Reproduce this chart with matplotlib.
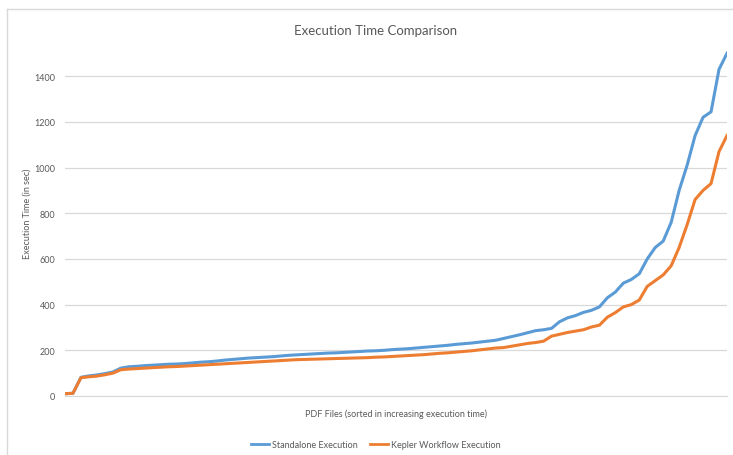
import matplotlib
matplotlib.use("Agg")
import matplotlib.pyplot as plt
from matplotlib.lines import Line2D

# execution times (sec) for PDF files, sorted by increasing time
standalone = [10, 12, 82, 88, 92, 98, 105, 122, 128, 130, 133, 135, 137, 139, 140,
              142, 145, 148, 150, 153, 157, 160, 163, 166, 168, 170, 172, 175, 178,
              180, 182, 184, 186, 188, 189, 191, 193, 195, 197, 198, 200, 203, 205,
              207, 210, 213, 216, 219, 222, 226, 229, 232, 236, 240, 244, 252, 260,
              268, 277, 286, 290, 296, 325, 342, 352, 366, 375, 390, 430, 455, 494,
              510, 535, 600, 650, 678, 760, 900, 1010, 1140, 1220, 1244, 1430, 1500]
kepler = [10, 12, 80, 84, 87, 93, 100, 115, 118, 120, 122, 124, 126, 128, 129,
          131, 133, 135, 137, 139, 141, 143, 145, 147, 149, 151, 153, 155, 157,
          159, 160, 161, 162, 163, 164, 165, 166, 167, 168, 170, 171, 173, 175,
          177, 179, 181, 184, 187, 189, 192, 195, 198, 202, 206, 210, 212, 218,
          224, 230, 234, 240, 262, 270, 278, 284, 290, 302, 310, 345, 365, 390,
          400, 420, 480, 505, 530, 570, 650, 750, 860, 900, 930, 1070, 1140]
files = list(range(len(standalone)))
yticks = [0, 200, 400, 600, 800, 1000, 1200, 1400]

BLUE, ORANGE, GREY, GRID = "#5B9BD5", "#ED7D31", "#595959", "#D9D9D9"
plt.rcParams["font.family"] = ["Lato", "DejaVu Sans"]

W, H = 733, 456
fig = plt.figure(figsize=(W / 100, H / 100), dpi=100)
ax = fig.add_axes([65 / W, (H - 397) / H, (727 - 65) / W, (397 - 31.5) / H])

ax.plot(files, standalone, color=BLUE, lw=2.2, solid_joinstyle="round")
ax.plot(files, kepler, color=ORANGE, lw=2.2, solid_joinstyle="round")

ax.set_xlim(0, len(files) - 1)
ax.set_ylim(0, 1600)
ax.set_yticks(yticks)
ax.set_xticks([])
ax.tick_params(axis="y", length=0, labelsize=6.5, labelcolor=GREY, pad=7)
ax.grid(axis="y", color=GRID, lw=0.9)
ax.set_axisbelow(True)
for s in ax.spines.values():
    s.set_visible(False)
ax.spines["bottom"].set_visible(True)
ax.spines["bottom"].set_color(GRID)

ax.set_ylabel("Execution Time (in sec)", fontsize=6.5, color=GREY, labelpad=2)
ax.set_xlabel("PDF Files (sorted in increasing execution time)", fontsize=6.5,
              color=GREY, labelpad=9)

fig.text(376 / W, 1 - 31 / H, "Execution Time Comparison", ha="center",
         va="center", fontsize=9.5, color=GREY)

handles = [Line2D([], [], color=BLUE, lw=2), Line2D([], [], color=ORANGE, lw=2)]
fig.legend(handles, ["Standalone Execution", "Kepler Workflow Execution"],
           loc="center", bbox_to_anchor=(376 / W, 1 - 446 / H), ncol=2,
           frameon=False, fontsize=6.5, handlelength=2.0, handletextpad=0.3,
           columnspacing=1.4, labelcolor=GREY)

# chart frame (top and left edges visible in the crop)
fig.add_artist(Line2D([7 / W, 7 / W], [0, 1 - 10 / H], color=GRID, lw=1,
                      transform=fig.transFigure))
fig.add_artist(Line2D([7 / W, 1], [1 - 10 / H, 1 - 10 / H], color=GRID, lw=1,
                      transform=fig.transFigure))

fig.savefig("out.png", dpi=100)
